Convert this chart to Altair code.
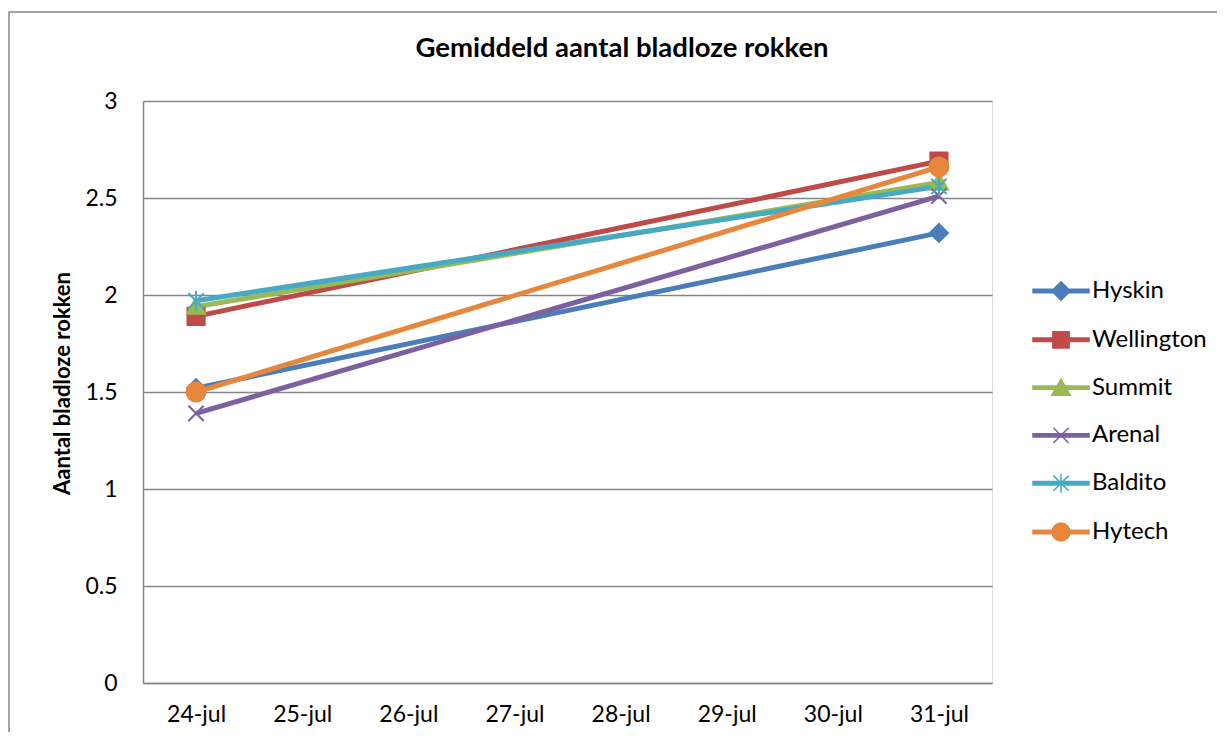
import altair as alt
import pandas as pd

series = ["Hyskin", "Wellington", "Summit", "Arenal", "Baldito", "Hytech"]
dates = ["24-jul", "25-jul", "26-jul", "27-jul", "28-jul", "29-jul", "30-jul", "31-jul"]
measured_dates = ["24-jul", "31-jul"]
values_24 = [1.52, 1.89, 1.94, 1.39, 1.97, 1.50]
values_31 = [2.32, 2.69, 2.58, 2.51, 2.56, 2.66]
colors = ["#4A7EBB", "#BE4B48", "#98B954", "#7D60A0", "#46AAC5", "#E6873D"]
y_ticks = [0, 0.5, 1, 1.5, 2, 2.5, 3]
chart_title = "Gemiddeld aantal bladloze rokken"

rows = []
for i, s in enumerate(series):
    rows.append({"series": s, "date": measured_dates[0], "value": values_24[i], "order": i})
    rows.append({"series": s, "date": measured_dates[1], "value": values_31[i], "order": i})
df = pd.DataFrame(rows)

FONT = "Lato"
GRAY = "#868686"

marker_paths = [
    "M0,-1L1,0L0,1L-1,0Z",
    "M-0.95,-0.95H0.95V0.95H-0.95Z",
    "M0,-1L1,0.8H-1Z",
    "M-0.85,-0.85L0.85,0.85M-0.85,0.85L0.85,-0.85",
    "M-0.85,-0.85L0.85,0.85M-0.85,0.85L0.85,-0.85M0,-1.1V1.1",
    "M1.05,0A1.05,1.05 0 1,1 -1.05,0A1.05,1.05 0 1,1 1.05,0Z",
]
line_part = "M-1,-0.06H1V0.06H-1Z "
legend_paths = [
    line_part + "M0,-0.33L0.33,0L0,0.33L-0.33,0Z",
    line_part + "M-0.29,-0.29H0.29V0.29H-0.29Z",
    line_part + "M0,-0.3L0.33,0.27H-0.33Z",
    line_part + "M-0.27,-0.27L0.27,0.27M-0.27,0.27L0.27,-0.27",
    line_part + "M-0.27,-0.27L0.27,0.27M-0.27,0.27L0.27,-0.27M0,-0.34V0.34",
    line_part + "M0.32,0A0.32,0.32 0 1,1 -0.32,0A0.32,0.32 0 1,1 0.32,0Z",
]

x_enc = alt.X(
    "date:O",
    sort=dates,
    scale=alt.Scale(domain=dates, type="point", padding=0.5),
    axis=alt.Axis(
        title=None,
        labelFont=FONT,
        labelFontSize=23,
        labelColor="black",
        labelAngle=0,
        labelPadding=20,
        ticks=False,
        domainColor=GRAY,
        domainWidth=1.5,
        grid=False,
    ),
)
y_enc = alt.Y(
    "value:Q",
    scale=alt.Scale(domain=[0, 3], nice=False, zero=True),
    axis=alt.Axis(
        title="Aantal bladloze rokken",
        titleFont=FONT,
        titleFontSize=22,
        titleFontWeight="bold",
        titleColor="black",
        titleAngle=270,
        titleX=-81,
        titleY=282,
        titleAlign="center",
        titleBaseline="middle",
        values=y_ticks,
        format="~g",
        labelFont=FONT,
        labelFontSize=23,
        labelColor="black",
        labelPadding=26,
        ticks=False,
        domainColor=GRAY,
        domainWidth=1.5,
        grid=True,
        gridColor=GRAY,
        gridWidth=1.3,
    ),
)

col_scale = alt.Scale(domain=series, range=colors)

lines = alt.Chart(df).mark_line(strokeWidth=5).encode(
    x=x_enc,
    y=y_enc,
    color=alt.Color("series:N", scale=col_scale, legend=None),
    detail="series:N",
    order="order:Q",
)

points = alt.Chart(df).mark_point(filled=True, size=324, strokeWidth=2, opacity=1).encode(
    x=x_enc,
    y=y_enc,
    color=alt.Color("series:N", scale=col_scale, legend=None),
    stroke=alt.Stroke("series:N", scale=col_scale, legend=None),
    shape=alt.Shape("series:N", scale=alt.Scale(domain=series, range=marker_paths), legend=None),
)

leg = alt.Legend(
    title=None,
    orient="none",
    legendX=889,
    legendY=161,
    symbolSize=3136,
    symbolStrokeWidth=1.5,
    symbolOpacity=1,
    labelFont=FONT,
    labelFontSize=24,
    labelColor="black",
    labelOffset=2,
    rowPadding=6.8,
    padding=0,
)

legend_layer = alt.Chart(df).mark_point(filled=True, size=10, opacity=0).encode(
    x=x_enc,
    y=y_enc,
    color=alt.Color("series:N", scale=col_scale, legend=leg),
    stroke=alt.Stroke("series:N", scale=col_scale, legend=leg),
    shape=alt.Shape("series:N", scale=alt.Scale(domain=series, range=legend_paths), legend=leg),
)

border = alt.Chart(alt.Data(values=[{"k": 1}])).mark_rect(
    fill="transparent", stroke=GRAY, strokeWidth=1.5
).encode(
    x=alt.value(-134),
    x2=alt.value(1200),
    y=alt.value(-89),
    y2=alt.value(700),
)

title_layer = alt.Chart(alt.Data(values=[{"t": chart_title}])).mark_text(
    font=FONT,
    fontSize=27.5,
    fontWeight="bold",
    color="black",
    align="center",
    baseline="alphabetic",
).encode(
    text="t:N",
    x=alt.value(479),
    y=alt.value(-44),
)

chart = (
    alt.layer(border, title_layer, lines, points, legend_layer)
    .resolve_scale(shape="independent", color="independent", stroke="independent")
    .properties(
        width=849,
        height=582,
        autosize=alt.AutoSizeParams(type="none"),
        padding={"left": 135, "top": 93, "right": 225, "bottom": 49},
    )
    .configure_view(strokeWidth=0)
    .configure(background="white")
)

chart.save("out.html", embed_options={"renderer": "svg", "actions": False})
